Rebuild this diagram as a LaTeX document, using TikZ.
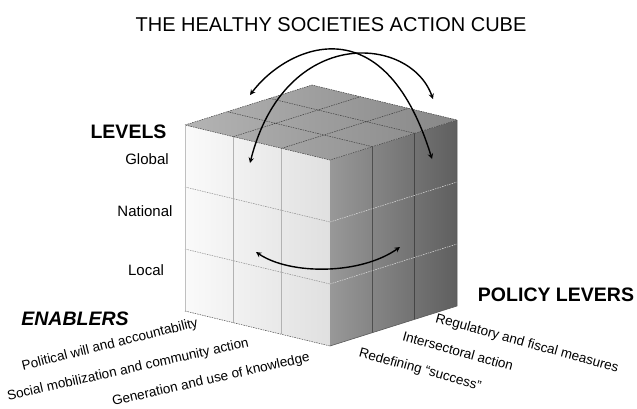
\documentclass[tikz,border=0pt]{standalone}
\usepackage{fontspec}
\setmainfont{Liberation Sans}
\usetikzlibrary{calc}
\definecolor{leftlight}{RGB}{250,250,250}
\definecolor{leftdark}{RGB}{224,224,224}
\definecolor{toplight}{RGB}{180,180,180}
\definecolor{topdark}{RGB}{135,135,135}
\definecolor{rightlight}{RGB}{152,152,152}
\definecolor{rightdark}{RGB}{95,95,95}
\tikzset{
  label/.style={font=\fontsize{13.5}{16}\selectfont},
  level/.style={font=\fontsize{15}{18}\selectfont},
  heading/.style={font=\fontsize{19.5}{23}\selectfont\bfseries},
  gridline/.style={dashed,dash pattern=on 1.5pt off 1pt,line width=.5pt},
  turn/.style={<->,>=stealth,line width=1.4pt}
}

\begin{document}
\begin{tikzpicture}[x=1pt,y=-1pt]
      \useasboundingbox (0,0) rectangle (637,408);

      % corners of the cube
      \coordinate (B) at (312,85);
      \coordinate (L) at (185,125);
      \coordinate (R) at (457,120);
      \coordinate (F) at (330,160);
      \coordinate (LB) at (185,311);
      \coordinate (RB) at (457,306);
      \coordinate (FB) at (330,346);

      \shade[left color=leftlight, right color=leftdark] (L) -- (F) -- (FB) -- (LB) -- cycle;
      \shade[shading angle=100, left color=rightlight, right color=rightdark] (F) -- (R) -- (RB) -- (FB) -- cycle;
      \shade[left color=toplight, right color=topdark] (L) -- (B) -- (R) -- (F) -- cycle;

      % left face
      \draw[gray!60, line width=.6pt] ($(L)!1/3!(F)$) -- ($(LB)!1/3!(FB)$)
                                      ($(L)!2/3!(F)$) -- ($(LB)!2/3!(FB)$);
      \draw[gridline, gray!90] ($(L)!1/3!(LB)$) -- ($(F)!1/3!(FB)$)
                               ($(L)!2/3!(LB)$) -- ($(F)!2/3!(FB)$);
      % right face
      \draw[gray!20!black, line width=.6pt, opacity=.5] ($(F)!1/3!(R)$) -- ($(FB)!1/3!(RB)$)
                                      ($(F)!2/3!(R)$) -- ($(FB)!2/3!(RB)$);
      \draw[gridline, gray!25] ($(F)!1/3!(FB)$) -- ($(R)!1/3!(RB)$)
                               ($(F)!2/3!(FB)$) -- ($(R)!2/3!(RB)$);
      % top face
      \draw[gridline, black!75] ($(L)!1/3!(B)$) -- ($(F)!1/3!(R)$)
                                ($(L)!2/3!(B)$) -- ($(F)!2/3!(R)$)
                                ($(L)!1/3!(F)$) -- ($(B)!1/3!(R)$)
                                ($(L)!2/3!(F)$) -- ($(B)!2/3!(R)$);
      \draw[gridline, black!75] (L) -- (B) -- (R) -- (F) -- cycle;
      \draw[gray!50, line width=.6pt] (L) -- (LB);
      \draw[gray!70!black, line width=.6pt] (R) -- (RB) -- (FB);
      \draw[gridline, black!70] (LB) -- (FB);

      % arrows
      \coordinate (a1) at (250,95);
      \coordinate (a2) at (432,159);
      \coordinate (b1) at (250,163);
      \coordinate (b2) at (433,99);
      \coordinate (c1) at (256,252);
      \coordinate (c2) at (400,247);
      \draw[turn] (a1) .. controls (285,48) and (383,0) .. (a2);
      \draw[turn] (b1) .. controls (285,25) and (410,35) .. (b2);
      \draw[turn] (c1) .. controls (290,275) and (360,275) .. (c2);

      \node (title) at (331,25) [font=\fontsize{20}{24}\selectfont] {THE HEALTHY SOCIETIES ACTION CUBE};
      \node (levels) at (128.5,131.5) [heading] {LEVELS};
      \node (global) at (147,159) [level] {Global};
      \node (national) at (145,211) [level] {National};
      \node (local) at (146,270) [level] {Local};
      \node (policy) at (556,294.5) [heading] {POLICY LEVERS};
      \node (enablers) at (75,318.5) [heading, font=\fontsize{19.5}{23}\selectfont\bfseries\itshape] {ENABLERS};

      \node (political) at (110,345) [label, rotate=14] {Political will and accountability};
      \node (social) at (128,370) [label, rotate=12.5] {Social mobilization and community action};
      \node (knowledge) at (211,380) [label, rotate=12.8] {Generation and use of knowledge};
      \node (regulatory) at (527,344) [label, rotate=-15.5] {Regulatory and fiscal measures};
      \node (intersectoral) at (458,351) [label, rotate=-15.5] {Intersectoral action};
      \node (success) at (420,370) [label, rotate=-15.5] {Redefining “success”};

    \end{tikzpicture}
\end{document}
